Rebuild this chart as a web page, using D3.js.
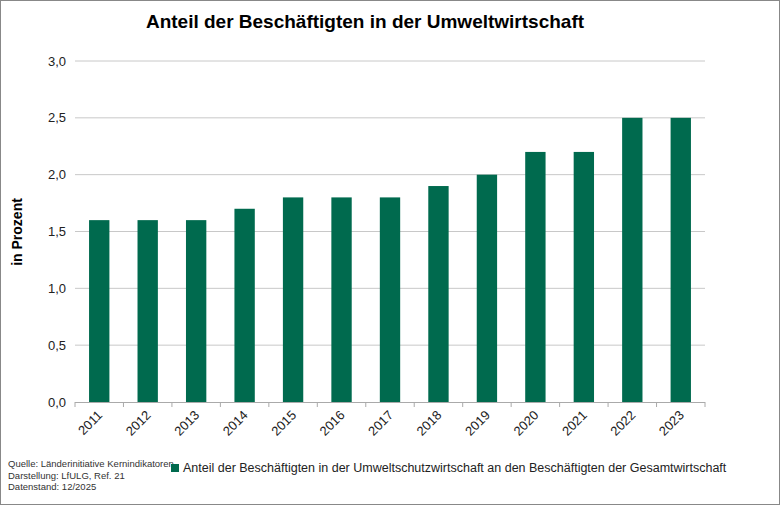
<!DOCTYPE html>
<html><head><meta charset="utf-8">
<script src="https://cdn.jsdelivr.net/npm/d3@7"></script>
<style>body{margin:0;background:#fff}svg{font-family:Arial,"Liberation Sans",sans-serif}</style>
</head><body>
<svg id="chart" width="780" height="505"></svg>
<script>
// data
const years = ["2011","2012","2013","2014","2015","2016","2017","2018","2019","2020","2021","2022","2023"];
const shares = [1.6, 1.6, 1.6, 1.7, 1.8, 1.8, 1.8, 1.9, 2.0, 2.2, 2.2, 2.5, 2.5];
const yTicks = [0, 0.5, 1, 1.5, 2, 2.5, 3];
const sourceLines = ["Quelle:  Länderinitiative  Kernindikatoren", "Darstellung:  LfULG,  Ref. 21", "Datenstand:  12/2025"];

const svg = d3.select("#chart");
const green = "#006A4E";

svg.append("rect").attr("x", 0.5).attr("y", 0.5).attr("width", 779).attr("height", 504)
    .attr("fill", "#fff").attr("stroke", "#888");

const x = d3.scaleBand().domain(years).range([75, 705]).paddingInner(0.58).paddingOuter(0.29);
const y = d3.scaleLinear().domain([0, 3]).range([402, 61]);

// gridlines
svg.append("g").selectAll("line").data(yTicks.slice(1)).enter().append("line")
    .attr("x1", 75).attr("x2", 705)
    .attr("y1", d => y(d)).attr("y2", d => y(d))
    .attr("stroke", "#c8c8c8");

// y labels
svg.append("g").selectAll("text").data(yTicks).enter().append("text")
    .attr("x", 66).attr("y", d => y(d) + 4.5)
    .attr("text-anchor", "end").attr("font-size", 13).attr("fill", "#222")
    .text(d => d3.format(".1f")(d).replace(".", ","));

// bars
svg.append("g").selectAll("rect").data(shares).enter().append("rect")
    .attr("x", (d, i) => x(years[i]))
    .attr("width", x.bandwidth())
    .attr("y", d => y(d))
    .attr("height", d => y(0) - y(d))
    .attr("fill", green);

// x axis
const step = x.step();
const xa = svg.append("g");
xa.append("line").attr("x1", 75).attr("x2", 705).attr("y1", 402.5).attr("y2", 402.5).attr("stroke", "#aaa");
xa.selectAll(".tk").data(d3.range(years.length + 1)).enter().append("line")
    .attr("x1", i => 75 + i * step * 1.0).attr("x2", i => 75 + i * step)
    .attr("y1", 402).attr("y2", 407).attr("stroke", "#aaa");
xa.selectAll("text").data(years).enter().append("text")
    .attr("transform", d => `translate(${x(d) + x.bandwidth() / 2 + 4},${416}) rotate(-45)`)
    .attr("text-anchor", "end").attr("font-size", 13).attr("fill", "#222")
    .text(d => d);

// titles
svg.append("text").attr("x", 365).attr("y", 28).attr("text-anchor", "middle")
    .attr("font-size", 19).attr("font-weight", "bold").text("Anteil der Beschäftigten in der Umweltwirtschaft");
svg.append("text").attr("transform", "translate(22,232) rotate(-90)").attr("text-anchor", "middle")
    .attr("font-size", 14).attr("font-weight", "bold").text("in Prozent");

// source
svg.append("g").selectAll("text").data(sourceLines).enter().append("text")
    .attr("x", 8).attr("y", (d, i) => 467 + i * 11.5)
    .attr("font-size", 9.5).attr("fill", "#333").text(d => d);

// legend
svg.append("rect").attr("x", 171).attr("y", 464).attr("width", 8).attr("height", 8).attr("fill", green);
svg.append("text").attr("x", 183).attr("y", 472).attr("font-size", 12.5).attr("fill", "#222")
    .text("Anteil der Beschäftigten in der Umweltschutzwirtschaft an den Beschäftigten der Gesamtwirtschaft");
</script>
</body></html>
